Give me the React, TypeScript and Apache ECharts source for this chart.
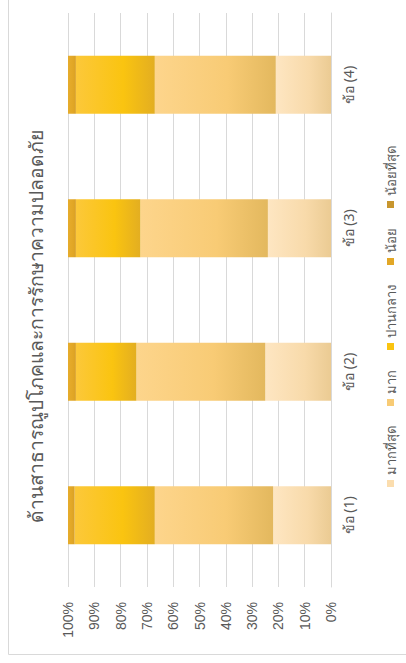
import React, { useEffect, useRef } from "react";
import * as echarts from "echarts";

const categories = ["ข้อ (1)", "ข้อ (2)", "ข้อ (3)", "ข้อ (4)"];
const seriesNames = ["มากที่สุด", "มาก", "ปานกลาง", "น้อย", "น้อยที่สุด"];
const veryHigh = [22, 25, 24, 21];
const high = [45, 49, 48.5, 46];
const medium = [30.5, 23, 24.5, 30];
const low = [2.5, 3, 3, 3];
const veryLow = [0, 0, 0, 0];
const titleText = "ด้านสาธารณูปโภคและการรักษาความปลอดภัย";

const gradients: [string, string, string][] = [
  ["#FEE6C2", "#F8DAAA", "#EBCB93"],
  ["#FDD58C", "#F8CB75", "#E3B85E"],
  ["#FCC83A", "#FAC410", "#E3AE21"],
  ["#E6AC2C", "#E2A726", "#D9A024"],
  ["#CB9A38", "#C8962E", "#C0902C"],
];
const legendColors = ["#FBDDAE", "#F8CB75", "#FAC410", "#E2A726", "#C8962E"];

export default function App() {
  const ref = useRef<HTMLDivElement>(null);
  useEffect(() => {
    if (!ref.current) return;
    const chart = echarts.init(ref.current, undefined, { renderer: "svg" });
    const values = [veryHigh, high, medium, low, veryLow];
    const font = "'Noto Sans', 'DejaVu Sans', sans-serif";
    chart.setOption({
      animation: false,
      backgroundColor: "#ffffff",
      grid: { left: 76, right: 13, top: 68, bottom: 75 },
      graphic: [
        {
          type: "rect",
          shape: { x: 8.5, y: 8.5, width: 700, height: 500 },
          style: { fill: "none", stroke: "#D9D9D9", lineWidth: 1 },
          silent: true,
        },
        {
          type: "text",
          x: 140,
          y: 35,
          style: {
            text: titleText,
            fontSize: 19.3,
            fontFamily: font,
            fill: "#595959",
            textAlign: "left",
            textVerticalAlign: "middle",
          },
        },
      ],
      legend: {
        left: 171,
        top: 379,
        icon: "rect",
        itemWidth: 7,
        itemHeight: 7,
        itemGap: 20,
        textStyle: { fontSize: 13, color: "#595959", fontFamily: font },
        data: seriesNames.map((n, i) => ({ name: n, itemStyle: { color: legendColors[i] } })),
      },
      xAxis: {
        type: "category",
        data: categories,
        axisTick: { show: false },
        axisLine: { lineStyle: { color: "#D9D9D9" } },
        axisLabel: { color: "#595959", fontSize: 14, margin: 10, fontFamily: font },
      },
      yAxis: {
        type: "value",
        min: 0,
        max: 100,
        interval: 10,
        axisLine: { show: false },
        axisTick: { show: false },
        splitLine: { lineStyle: { color: "#D9D9D9" } },
        axisLabel: {
          formatter: "{value}%",
          color: "#595959",
          fontSize: 14,
          margin: 15,
          fontFamily: "'Liberation Sans', Arial, sans-serif",
        },
      },
      series: seriesNames.map((name, i) => ({
        name,
        type: "bar",
        stack: "total",
        barWidth: 58,
        data: values[i],
        itemStyle: {
          color: new echarts.graphic.LinearGradient(0, 0, 0, 1, [
            { offset: 0, color: gradients[i][0] },
            { offset: 0.6, color: gradients[i][1] },
            { offset: 1, color: gradients[i][2] },
          ]),
        },
      })),
    });
    return () => chart.dispose();
  }, []);
  return (
    <div
      style={{
        position: "fixed",
        left: 0,
        top: 0,
        width: 406,
        height: 663,
        overflow: "hidden",
        background: "#fff",
      }}
    >
      <div
        ref={ref}
        style={{
          position: "absolute",
          left: 0,
          top: 0,
          width: 663,
          height: 406,
          transformOrigin: "0 0",
          transform: "translateY(663px) rotate(-90deg)",
        }}
      />
    </div>
  );
}
